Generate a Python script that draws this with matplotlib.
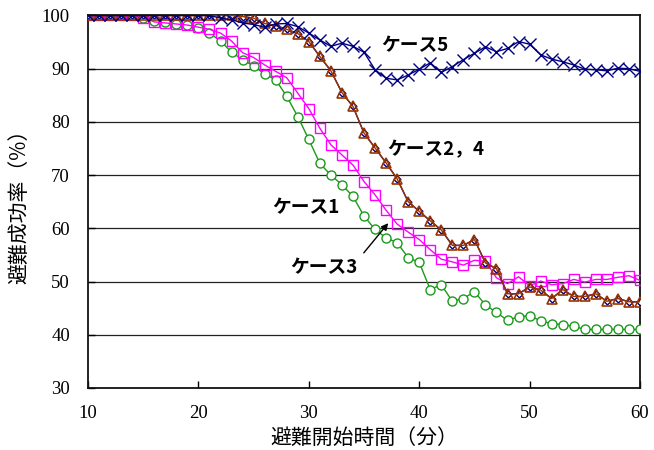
import matplotlib
matplotlib.use("Agg")
import matplotlib.pyplot as plt

minutes = list(range(10, 61))

case1 = [100, 100, 100, 100, 100, 99.5, 99.0, 98.7, 98.4, 98.2,
         97.6, 96.7, 95.2, 93.1, 91.7, 90.5, 89.0, 87.9, 84.8, 81.0,
         76.7, 72.2, 70.0, 68.2, 66.0, 62.3, 59.8, 58.2, 57.3, 54.5,
         53.6, 48.5, 49.4, 46.3, 46.8, 48.1, 45.6, 44.2, 42.7, 43.4,
         43.6, 42.6, 42.1, 41.9, 41.6, 41.0, 41.0, 41.0, 41.0, 41.0, 41.0]

case3 = [100, 100, 100, 100, 100, 99.6, 98.8, 98.6, 98.4, 98.2,
         97.8, 97.4, 96.7, 95.2, 93.0, 92.1, 90.7, 89.5, 88.3, 85.4,
         82.5, 78.8, 75.7, 73.8, 71.9, 68.8, 66.3, 63.4, 60.8, 59.3,
         57.9, 56.0, 54.2, 53.7, 53.1, 54.0, 53.8, 50.7, 49.6, 50.9,
         49.2, 50.1, 49.4, 49.6, 50.4, 49.9, 50.4, 50.4, 50.8, 51.1, 50.2]

case2 = [100, 100, 100, 100, 100, 100, 100, 100, 100, 100,
         100, 100, 100, 100, 99.8, 99.5, 98.5, 98.1, 97.4, 96.6,
         95.1, 92.3, 89.6, 85.5, 82.9, 77.9, 75.1, 72.3, 69.3, 65.0,
         63.2, 61.4, 59.7, 56.8, 56.8, 57.9, 53.5, 52.4, 47.7, 47.7,
         49.0, 48.4, 46.8, 48.5, 47.2, 47.2, 47.7, 46.3, 46.8, 46.2, 46.2]

case4 = [100, 100, 100, 100, 100, 100, 100, 100, 100, 100,
         100, 100, 100, 100, 99.8, 99.5, 98.5, 98.1, 97.4, 96.6,
         95.1, 92.3, 89.6, 85.5, 82.9, 77.9, 75.1, 72.3, 69.3, 65.0,
         63.2, 61.4, 59.7, 56.8, 56.8, 57.9, 53.5, 52.4, 47.7, 47.7,
         49.0, 48.4, 46.8, 48.5, 47.2, 47.2, 47.7, 46.3, 46.8, 46.2, 46.2]

case5 = [100, 100, 100, 100, 100, 100, 100, 100, 100, 100,
         100, 100, 99.5, 99.2, 98.6, 98.3, 97.8, 98.4, 98.5, 97.9,
         96.7, 95.4, 94.2, 94.8, 94.2, 93.1, 89.8, 88.2, 87.9, 88.8,
         89.9, 91.1, 89.3, 90.4, 91.7, 92.9, 94.1, 93.2, 93.8, 95.1,
         94.6, 92.6, 91.8, 91.3, 90.7, 89.9, 89.8, 89.6, 90.1, 90.0, 89.5]

xticks = [10, 20, 30, 40, 50, 60]
yticks = [30, 40, 50, 60, 70, 80, 90, 100]
xlabel = "避難開始時間（分）"
ylabel = "避難成功率（%）"

jp = ["Noto Sans CJK JP", "DejaVu Sans"]

fig = plt.figure(figsize=(6.54, 4.5), dpi=100)
ax = fig.add_axes([0.1346, 0.1378, 0.8440, 0.8278])

ax.plot(minutes, case1, color="#1a9a1a", lw=1.0, marker="o", ms=6.5,
        mfc="white", mec="#1a9a1a", mew=1.0, zorder=3)
ax.plot(minutes, case3, color="#ff00ff", lw=1.0, marker="s", ms=7,
        mfc="none", mec="#ff00ff", mew=1.0, zorder=4)
ax.plot(minutes, case4, color="#000080", lw=1.0, marker="D", ms=3.5,
        mfc="white", mec="#000080", mew=1.0, zorder=5)
ax.plot(minutes, case2, color="#993300", lw=1.0, marker="^", ms=7,
        mfc="none", mec="#993300", mew=1.2, zorder=6)
ax.plot(minutes, case5, color="#000080", lw=1.0, marker="x", ms=8,
        mec="#000080", mew=1.0, zorder=7)

ax.set_xlim(10, 60)
ax.set_ylim(30, 100)
ax.set_xticks(xticks)
ax.set_yticks(yticks)
ax.set_xticklabels([str(t) for t in xticks], family="Liberation Serif", fontsize=13.5)
ax.set_yticklabels([str(t) for t in yticks], family="Liberation Serif", fontsize=13.5)
ax.tick_params(direction="in", length=5, width=1)
ax.tick_params(axis="x", pad=12)
ax.tick_params(axis="y", pad=13)
for y in yticks[1:-1]:
    ax.axhline(y, color="#222222", lw=0.9, zorder=1)
for s in ax.spines.values():
    s.set_linewidth(1.3)
    s.set_color("#111111")

ax.set_xlabel(xlabel, family=jp, fontsize=15, labelpad=4)
ax.set_ylabel(ylabel, family=jp, fontsize=15, labelpad=8)

tkw = dict(family=jp, fontsize=13.5, fontweight="bold", ha="center", va="center")
fig.text(415 / 654, 1 - 46 / 450, "ケース5", **tkw)
fig.text(436 / 654, 1 - 150 / 450, "ケース2，4", **tkw)
fig.text(306 / 654, 1 - 208 / 450, "ケース1", **tkw)
fig.text(324 / 654, 1 - 268 / 450, "ケース3", **tkw)
ax.annotate("", xy=(390 / 654, 1 - 221 / 450), xycoords="figure fraction",
            xytext=(362 / 654, 1 - 255 / 450), textcoords="figure fraction",
            arrowprops=dict(arrowstyle="-|>", color="black", lw=1.0,
                            mutation_scale=10))

fig.savefig("out.png", dpi=100)
